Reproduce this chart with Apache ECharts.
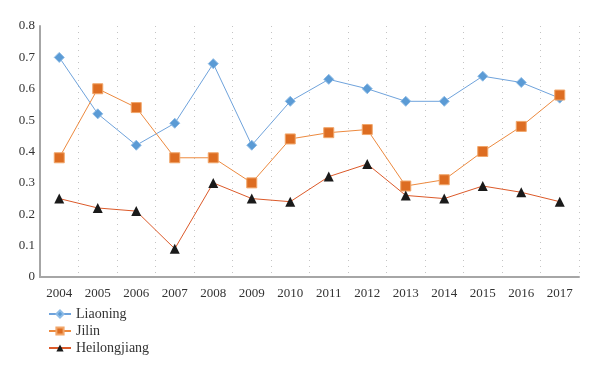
<!DOCTYPE html>
<html>
<head>
<meta charset="utf-8">
<script src="https://cdn.jsdelivr.net/npm/echarts@6/dist/echarts.min.js"></script>
<style>
html, body { margin: 0; padding: 0; background: #fff; }
#pageEcharts { width: 600px; height: 375px; }
</style>
</head>
<body>
<div id="pageEcharts"></div>
<script>
var years = ['2004','2005','2006','2007','2008','2009','2010','2011','2012','2013','2014','2015','2016','2017'];
var liaoning = [0.70, 0.52, 0.42, 0.49, 0.68, 0.42, 0.56, 0.63, 0.60, 0.56, 0.56, 0.64, 0.62, 0.57];
var jilin = [0.38, 0.60, 0.54, 0.38, 0.38, 0.30, 0.44, 0.46, 0.47, 0.29, 0.31, 0.40, 0.48, 0.58];
var heilongjiang = [0.25, 0.22, 0.21, 0.09, 0.30, 0.25, 0.24, 0.32, 0.36, 0.26, 0.25, 0.29, 0.27, 0.24];

var font = 'Liberation Serif';
var myChart = echarts.init(document.getElementById("pageEcharts"));
var option = {
    backgroundColor: '#fff',
    animation: false,
    grid: {
        left: 40,
        right: 21,
        top: 26,
        bottom: 98
    },
    legend: {
        orient: 'vertical',
        left: 43,
        top: 302,
        itemWidth: 22,
        itemHeight: 9,
        itemGap: 3,
        textStyle: {
            color: '#333',
            fontSize: 14,
            fontFamily: font
        },
        data: ['Liaoning', 'Jilin', 'Heilongjiang']
    },
    xAxis: {
        type: 'category',
        data: years,
        boundaryGap: true,
        axisTick: { show: false },
        axisLine: {
            lineStyle: { color: '#a6a6a6', width: 2 }
        },
        axisLabel: {
            color: '#333',
            fontSize: 13,
            fontFamily: font,
            margin: 10
        },
        splitLine: {
            show: true,
            interval: 0,
            lineStyle: { color: '#c4c4c4', type: [1, 5], width: 1 }
        }
    },
    yAxis: {
        type: 'value',
        min: 0,
        max: 0.8,
        interval: 0.1,
        axisLine: {
            show: true,
            lineStyle: { color: '#a6a6a6', width: 2 }
        },
        axisTick: { show: false },
        splitLine: { show: false },
        axisLabel: {
            color: '#333',
            fontSize: 13,
            fontFamily: font,
            margin: 5,
            formatter: function (v) { return v === 0 ? '0' : v.toFixed(1); }
        }
    },
    series: [
        {
            name: 'Liaoning',
            type: 'line',
            data: liaoning,
            symbol: 'diamond',
            symbolSize: 10,
            lineStyle: { color: '#6fa3dc', width: 1 },
            itemStyle: { color: '#5b9bd5', borderColor: '#8dbbe6', borderWidth: 1 }
        },
        {
            name: 'Jilin',
            type: 'line',
            data: jilin,
            symbol: 'rect',
            symbolSize: 10,
            lineStyle: { color: '#ed8a3f', width: 1 },
            itemStyle: { color: '#dd6d22', borderColor: '#f1a66a', borderWidth: 1 }
        },
        {
            name: 'Heilongjiang',
            type: 'line',
            data: heilongjiang,
            symbol: 'triangle',
            symbolSize: 10,
            lineStyle: { color: '#dc5a2a', width: 1 },
            itemStyle: { color: '#1a1a1a', borderColor: '#1a1a1a', borderWidth: 0 }
        }
    ]
};
myChart.setOption(option);
</script>
</body>
</html>
